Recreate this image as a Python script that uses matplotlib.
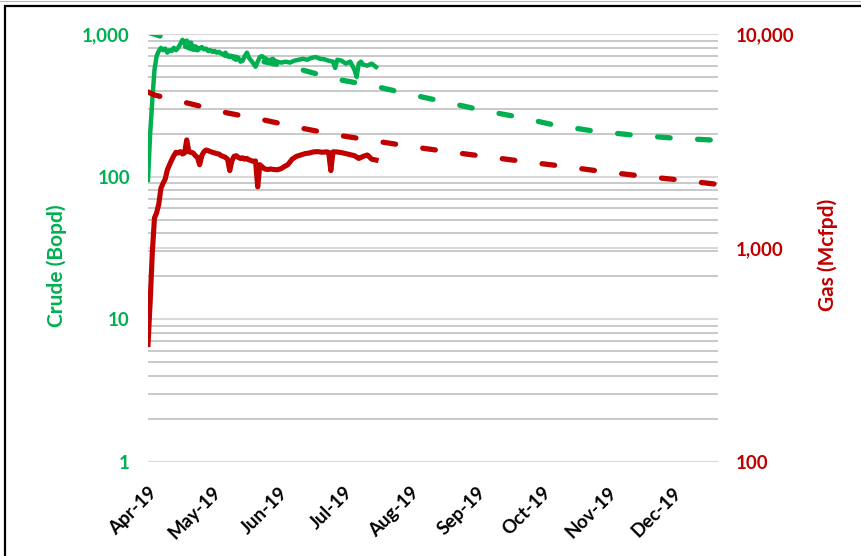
#!/usr/bin/env python3
import matplotlib as mpl
import matplotlib.pyplot as plt
import matplotlib.dates as mdates
import matplotlib.transforms as mtransforms
from matplotlib.lines import Line2D
from matplotlib.patches import Rectangle
from matplotlib.ticker import FuncFormatter, LogLocator, NullFormatter
import pandas as pd

START = pd.Timestamp("2019-04-01")
END = pd.Timestamp("2019-12-22")

# daily actuals (days since 1 Apr 2019)
crude_days = [0, 1, 2, 3, 4, 5, 6, 7, 8, 9, 10, 11, 12, 13, 14, 15, 16, 17,
              18, 19, 20, 21, 22, 23, 24, 25, 26, 27, 28, 29, 30, 31, 32, 33,
              34, 35, 36, 37, 38, 39, 40, 41, 42, 43, 44, 45, 46, 47, 48, 49,
              50, 51, 52, 53, 54, 55, 56, 57, 58, 59, 60, 62, 64, 66, 68, 70,
              72, 74, 76, 78, 80, 82, 84, 86, 87, 88, 90, 92, 94, 95, 96, 97,
              98, 99, 100, 102, 104, 106]
crude_bopd = [95, 200, 344, 559, 700, 760, 800, 770, 790, 740, 770, 760, 800,
              770, 800, 850, 910, 860, 900, 850, 870, 780, 820, 800, 790, 810,
              780, 790, 760, 770, 750, 760, 740, 750, 730, 720, 740, 700, 690,
              700, 670, 660, 680, 640, 650, 700, 740, 680, 650, 620, 590, 640,
              690, 700, 680, 670, 650, 660, 670, 650, 640, 630, 640, 630, 650,
              660, 670, 660, 680, 690, 670, 665, 650, 640, 578, 660, 650, 620,
              640, 600, 560, 500, 620, 640, 610, 600, 620, 587]

gas_days = [0, 1, 2, 3, 4, 5, 6, 7, 8, 9, 10, 11, 12, 13, 14, 15, 16, 17, 18,
            19, 20, 21, 22, 23, 24, 25, 26, 27, 28, 29, 30, 31, 32, 33, 34,
            35, 36, 37, 38, 39, 40, 41, 42, 43, 44, 45, 46, 47, 48, 49, 50,
            51, 52, 53, 54, 55, 56, 57, 58, 60, 62, 63, 65, 67, 69, 71, 73,
            75, 77, 79, 81, 83, 84, 85, 86, 88, 90, 92, 94, 96, 97, 98, 100,
            101, 102, 104, 106]
gas_mcfpd = [354, 560, 950, 1380, 1460, 1600, 1900, 2006, 2100, 2318, 2450,
             2576, 2700, 2800, 2780, 2820, 2750, 2780, 3199, 2814, 2800, 2780,
             2700, 2650, 2450, 2700, 2820, 2870, 2850, 2820, 2800, 2780, 2760,
             2750, 2700, 2680, 2650, 2600, 2300, 2550, 2680, 2700, 2650, 2620,
             2640, 2600, 2620, 2580, 2560, 2540, 2550, 1930, 2450, 2400, 2350,
             2330, 2330, 2340, 2330, 2320, 2350, 2390, 2450, 2600, 2680, 2720,
             2760, 2780, 2814, 2820, 2800, 2814, 2800, 2300, 2814, 2810, 2790,
             2760, 2730, 2700, 2660, 2620, 2680, 2700, 2720, 2600, 2576]

# decline forecasts
crude_fc_days = [0, 7, 20, 40, 55, 70, 87, 105, 121, 138, 155, 172, 189, 207,
                 225, 243, 261, 265]
crude_fc_bopd = [1030, 953, 790, 690, 635, 569, 484, 432, 380, 334, 293, 262,
                 230, 209, 196, 187, 181, 180]

gas_fc_days = [0, 3, 20, 37, 54, 71, 88, 106, 122, 140, 158, 176, 194, 211,
               229, 247, 263, 265]
gas_fc_mcfpd = [5357, 5187, 4713, 4275, 3963, 3637, 3371, 3159, 2981, 2814,
                2667, 2527, 2403, 2279, 2172, 2079, 1993, 1980]

GREEN = "#00B050"
RED = "#C00000"


def to_dates(days):
    return START + pd.to_timedelta(days, unit="D")


def main():
    mpl.rcParams["font.family"] = ["Lato", "DejaVu Sans"]
    mpl.rcParams["font.weight"] = "bold"

    fig = plt.figure(figsize=(8.62, 5.56), dpi=100)
    ax = fig.add_axes([148 / 862, 1 - 462 / 556, 570 / 862, 428 / 556])
    ax2 = ax.twinx()

    ax.set_yscale("log")
    ax2.set_yscale("log")
    ax.set_ylim(1, 1000)
    ax2.set_ylim(100, 10000)
    ax.set_xlim(START, END)

    ax.yaxis.set_minor_locator(LogLocator(base=10, subs=range(2, 10)))
    ax.yaxis.set_minor_formatter(NullFormatter())
    ax2.yaxis.set_minor_locator(LogLocator(base=10, subs=range(2, 10)))
    ax2.yaxis.set_minor_formatter(NullFormatter())
    fmt = FuncFormatter(lambda v, _: f"{v:,.0f}")
    ax.yaxis.set_major_formatter(fmt)
    ax2.yaxis.set_major_formatter(fmt)

    ax.grid(True, which="major", axis="y", color="#d9d9d9", lw=1.5)
    ax.grid(True, which="minor", axis="y", color="#c0c0c0", lw=1.2)
    ax.grid(False, axis="x")
    ax2.grid(True, which="major", axis="y", color="#d9d9d9", lw=1.5)
    ax.set_axisbelow(True)

    dash = (2.4, 5.2)
    ax.plot(to_dates(crude_fc_days), crude_fc_bopd, color=GREEN, lw=3.8,
            dashes=dash, dash_capstyle="round")
    ax.plot(to_dates(crude_days), crude_bopd, color=GREEN, lw=3.2,
            solid_joinstyle="round")
    ax2.plot(to_dates(gas_fc_days), gas_fc_mcfpd, color=RED, lw=3.8,
             dashes=dash, dash_capstyle="round")
    ax2.plot(to_dates(gas_days), gas_mcfpd, color=RED, lw=3.7,
             solid_joinstyle="round")

    ax.xaxis.set_major_locator(mdates.MonthLocator())
    ax.xaxis.set_major_formatter(mdates.DateFormatter("%b-%y"))

    for a in (ax, ax2):
        for side in a.spines:
            a.spines[side].set_visible(False)
        a.tick_params(which="both", length=0)

    ax.tick_params(axis="y", labelcolor=GREEN, labelsize=13.5, pad=13)
    ax2.tick_params(axis="y", labelcolor=RED, labelsize=13.5, pad=13)
    ax.tick_params(axis="x", labelcolor="black", labelsize=13.5, pad=20)
    shift = mtransforms.ScaledTranslation(6 / 100, 0, fig.dpi_scale_trans)
    for lbl in ax.get_xticklabels():
        lbl.set_rotation(45)
        lbl.set_ha("right")
        lbl.set_va("center")
        lbl.set_rotation_mode("anchor")
        lbl.set_transform(lbl.get_transform() + shift)
    for lbl in ax.get_yticklabels() + ax2.get_yticklabels():
        lbl.set_fontweight("bold")

    fig.text(57 / 862, 1 - 266 / 556, "Crude (Bopd)", color=GREEN,
             fontsize=15, fontweight="bold", rotation=90,
             ha="center", va="center")
    fig.text(828 / 862, 1 - 255 / 556, "Gas (Mcfpd)", color=RED,
             fontsize=15, fontweight="bold", rotation=90,
             ha="center", va="center")

    # outer frame
    fig.add_artist(Rectangle((5 / 862, -0.1), 1.2, 1.1 - 6 / 556,
                             transform=fig.transFigure, fill=False,
                             edgecolor="black", lw=1.6))
    fig.add_artist(Line2D([0, 1], [1 - 0.5 / 556] * 2,
                          transform=fig.transFigure, color="#dba6a6", lw=0.8))

    fig.savefig("out.png", dpi=100)
    plt.close(fig)


if __name__ == "__main__":
    main()
